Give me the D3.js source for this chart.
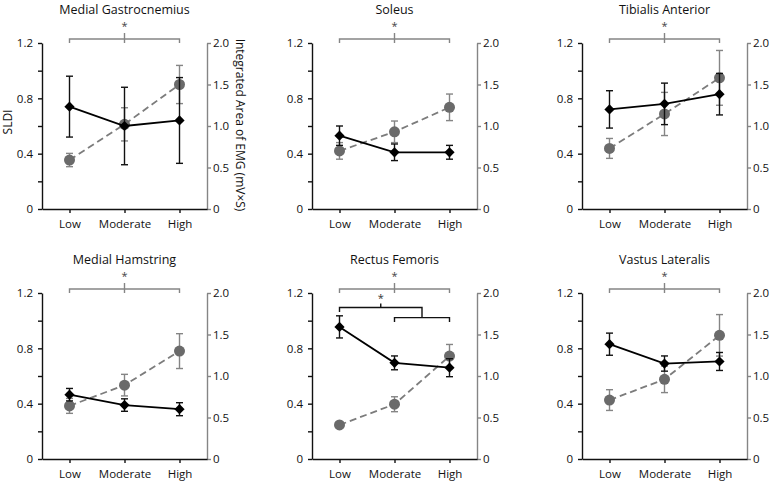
<!DOCTYPE html>
<html><head><meta charset="utf-8">
<script src="https://cdn.jsdelivr.net/npm/d3@7"></script>
<style>body{margin:0;background:#fff} text{font-family:"Open Sans",sans-serif}</style>
</head><body>
<svg id="c" width="770" height="482"></svg>
<script>
const categories = ["Low", "Moderate", "High"];
const muscles = ["Medial Gastrocnemius", "Soleus", "Tibialis Anterior", "Medial Hamstring", "Rectus Femoris", "Vastus Lateralis"];
const sldiMean = [[0.74,0.60,0.64],[0.53,0.41,0.41],[0.72,0.76,0.83],[0.465,0.39,0.36],[0.955,0.695,0.66],[0.83,0.69,0.705]];
const sldiErr  = [[0.22,0.28,0.31],[0.07,0.06,0.05],[0.135,0.15,0.15],[0.045,0.045,0.047],[0.08,0.05,0.065],[0.08,0.055,0.065]];
const emgMean  = [[0.59,1.02,1.50],[0.70,0.93,1.225],[0.73,1.145,1.58],[0.64,0.89,1.30],[0.41,0.66,1.24],[0.71,0.96,1.49]];
const emgErr   = [[0.08,0.20,0.23],[0.10,0.13,0.16],[0.12,0.26,0.33],[0.09,0.13,0.21],[0.02,0.09,0.14],[0.125,0.16,0.25]];
const sldiTicks = [0, 0.2, 0.4, 0.6, 0.8, 1.0, 1.2];
const sldiTickLabels = ["0", "", "0.4", "", "0.8", "", "1.2"];
const emgTicks = [0, 0.5, 1.0, 1.5, 2.0];
const emgTickLabels = ["0", "0.5", "1.0", "1.5", "2.0"];
const emgSignificant = [true, true, true, true, true, true];
// SLDI post-hoc: Low differs from Moderate & High (Rectus Femoris only)
const sldiPostHoc = [null, null, null, null, {single: "Low", group: ["Moderate", "High"]}, null];
const leftTitle = "SLDI";
const rightTitle = "Integrated Area of EMG (mV×S)";

const svg = d3.select("#c");
const W = 165, H = 166, colX = [42, 312, 582], rowY = [43, 293];
const GRAY = "#858585", GRAYDOT = "#6a6a6a";

muscles.forEach((m, i) => {
  const c = i % 3, r = Math.floor(i / 3);
  const g = svg.append("g").attr("transform", `translate(${colX[c]},${rowY[r]})`);
  const x = d3.scalePoint().domain(categories).range([0, W]).padding(0.5);
  const yL = d3.scaleLinear().domain([0, 1.2]).range([H, 0]);
  const yR = d3.scaleLinear().domain([0, 2]).range([H, 0]);

  // title
  g.append("text").attr("x", W / 2).attr("y", -29.5).attr("text-anchor", "middle")
    .attr("font-size", 12.5).attr("fill", "#111").text(m);

  // axes
  const la = g.append("g").call(d3.axisLeft(yL).tickValues(sldiTicks).tickSize(4).tickSizeOuter(0).tickPadding(5)
    .tickFormat((d, k) => sldiTickLabels[k]));
  la.selectAll("path,line").attr("stroke", "#111").attr("stroke-width", 1.4);
  la.selectAll("text").attr("font-size", 11.5).attr("fill", "#111").attr("font-family", "Open Sans");

  const ra = g.append("g").attr("transform", `translate(${W},0)`)
    .call(d3.axisRight(yR).tickValues(emgTicks).tickSize(4).tickSizeOuter(0).tickPadding(2)
    .tickFormat((d, k) => emgTickLabels[k]));
  ra.selectAll("path,line").attr("stroke", GRAY).attr("stroke-width", 1.4);
  ra.selectAll("text").attr("font-size", 11.5).attr("fill", "#111").attr("font-family", "Open Sans");

  const ba = g.append("g").attr("transform", `translate(0,${H})`)
    .call(d3.axisBottom(x).tickSize(4).tickSizeOuter(0).tickPadding(7));
  ba.selectAll("path,line").attr("stroke", "#111").attr("stroke-width", 1.4);
  ba.selectAll("text").attr("font-size", 11.5).attr("fill", "#111").attr("font-family", "Open Sans");

  if (c === 0 && r === 0) {
    g.append("text").attr("transform", `translate(-30,${H / 2 - 4}) rotate(-90)`).attr("text-anchor", "middle")
      .attr("font-size", 12).attr("fill", "#111").text(leftTitle);
    g.append("text").attr("transform", `translate(${W + 29},${H / 2 - 1}) rotate(90)`).attr("text-anchor", "middle")
      .attr("font-size", 12).attr("fill", "#111").text(rightTitle);
  }

  // EMG series (gray)
  const emg = categories.map((k, j) => ({k, v: emgMean[i][j], e: emgErr[i][j]}));
  const sld = categories.map((k, j) => ({k, v: sldiMean[i][j], e: sldiErr[i][j]}));
  const cap = 3.5;

  g.append("path").datum(emg).attr("fill", "none").attr("stroke", "#7c7c7c").attr("stroke-width", 1.8)
    .attr("stroke-dasharray", "7,4")
    .attr("d", d3.line().x(d => x(d.k)).y(d => yR(d.v)));
  const eb = g.append("g").attr("stroke", GRAY).attr("stroke-width", 1.4);
  emg.forEach(d => {
    const cx = x(d.k), t = yR(d.v + d.e), b = yR(d.v - d.e);
    eb.append("line").attr("x1", cx).attr("x2", cx).attr("y1", t).attr("y2", b);
    eb.append("line").attr("x1", cx - cap).attr("x2", cx + cap).attr("y1", t).attr("y2", t);
    eb.append("line").attr("x1", cx - cap).attr("x2", cx + cap).attr("y1", b).attr("y2", b);
  });
  g.selectAll("circle.emg").data(emg).join("circle").attr("class", "emg")
    .attr("cx", d => x(d.k)).attr("cy", d => yR(d.v)).attr("r", 5.5).attr("fill", GRAYDOT);

  // SLDI series (black)
  const ebk = g.append("g").attr("stroke", "#111").attr("stroke-width", 1.4);
  sld.forEach(d => {
    const cx = x(d.k), t = yL(d.v + d.e), b = yL(d.v - d.e);
    ebk.append("line").attr("x1", cx).attr("x2", cx).attr("y1", t).attr("y2", b);
    ebk.append("line").attr("x1", cx - cap).attr("x2", cx + cap).attr("y1", t).attr("y2", t);
    ebk.append("line").attr("x1", cx - cap).attr("x2", cx + cap).attr("y1", b).attr("y2", b);
  });
  g.append("path").datum(sld).attr("fill", "none").attr("stroke", "#000").attr("stroke-width", 1.8)
    .attr("d", d3.line().x(d => x(d.k)).y(d => yL(d.v)));
  g.selectAll("path.sldi").data(sld).join("path").attr("class", "sldi")
    .attr("transform", d => `translate(${x(d.k)},${yL(d.v)}) rotate(45)`)
    .attr("d", d3.symbol(d3.symbolSquare, 52)).attr("fill", "#000");

  // EMG significance bracket (gray)
  if (emgSignificant[i]) {
    const x0 = x(categories[0]), x1 = x(categories[categories.length - 1]), xm = (x0 + x1) / 2, yb = -4;
    g.append("path").attr("fill", "none").attr("stroke", GRAY).attr("stroke-width", 1.4)
      .attr("d", `M${x0},0V${yb}H${x1}V0M${xm},${yb - 6}V0`);
    g.append("text").attr("x", xm).attr("y", yb - 9).attr("text-anchor", "middle")
      .attr("font-size", 11).attr("fill", "#444").text("*");
  }
  // SLDI post-hoc bracket (black)
  const ph = sldiPostHoc[i];
  if (ph) {
    const xs = x(ph.single), xa = x(ph.group[0]), xb = x(ph.group[ph.group.length - 1]);
    const xg = (xa + xb) / 2, y1 = 14.5, y2 = 24.6, xm = (xs + xg) / 2;
    g.append("path").attr("fill", "none").attr("stroke", "#111").attr("stroke-width", 1.4)
      .attr("d", `M${xs},${y1 + 4.5}V${y1}H${xg}V${y2}M${xa},${y2 + 4.5}V${y2}H${xb}V${y2 + 4.5}M${xm},${y1 - 4}V${y1}`);
    g.append("text").attr("x", xm).attr("y", y1 - 6).attr("text-anchor", "middle")
      .attr("font-size", 11).attr("fill", "#333").text("*");
  }
});
</script>
</body></html>
